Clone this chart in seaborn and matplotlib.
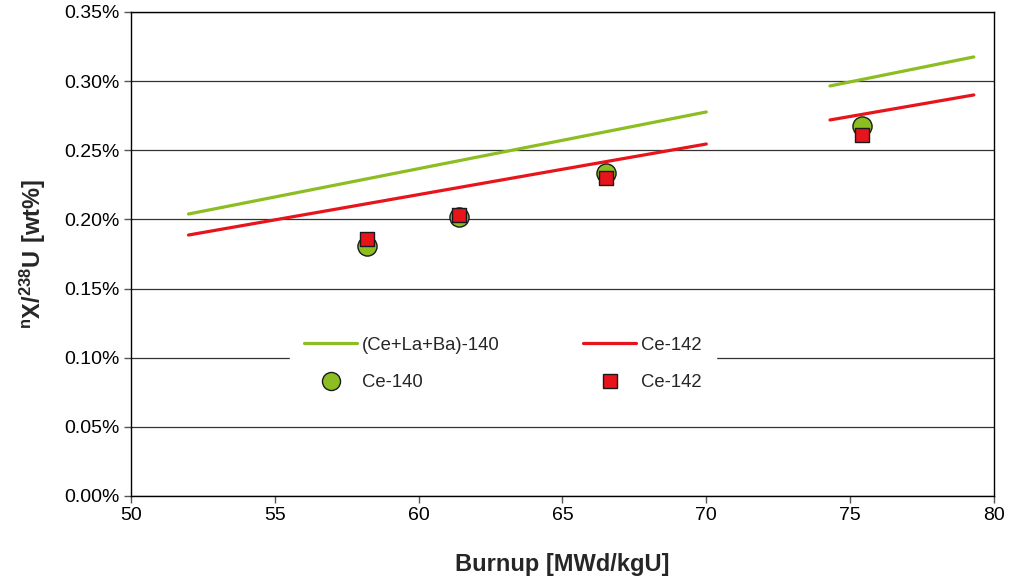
import matplotlib
matplotlib.use("Agg")
import matplotlib.pyplot as plt
import seaborn as sns
import pandas as pd
from matplotlib.ticker import FuncFormatter, MultipleLocator
from matplotlib.lines import Line2D

# Calculated curves (two burnup segments each), values in wt%
calc_burnup = [52.0, 58.0, 64.0, 70.0, 74.3, 79.3]
calc_segment = [1, 1, 1, 1, 2, 2]
calc_celaba140 = [0.2039, 0.2285, 0.2531, 0.2777, 0.2965, 0.3175]
calc_ce142 = [0.1887, 0.2106, 0.2326, 0.2545, 0.2719, 0.2900]

# Measured points
meas_burnup = [58.2, 61.4, 66.5, 75.4]
meas_ce140 = [0.1810, 0.2018, 0.2336, 0.2678]
meas_ce142 = [0.1858, 0.2032, 0.2302, 0.2610]

green = "#8CBE22"
red = "#E8141B"

sns.set_theme(style="white")
plt.rcParams["font.family"] = ["Liberation Sans", "DejaVu Sans"]
plt.rcParams["mathtext.fontset"] = "custom"
plt.rcParams["mathtext.rm"] = "Liberation Sans"
plt.rcParams["mathtext.bf"] = "Liberation Sans:bold"

calc = pd.DataFrame({"burnup": calc_burnup, "segment": calc_segment,
                     "celaba": calc_celaba140, "ce142": calc_ce142})
meas = pd.DataFrame({"burnup": meas_burnup, "ce140": meas_ce140, "ce142": meas_ce142})

fig = plt.figure(figsize=(10.09, 5.78), dpi=100)
ax = fig.add_axes([0.1298, 0.1419, 0.8553, 0.8374])

sns.lineplot(data=calc, x="burnup", y="celaba", units="segment", estimator=None,
             color=green, lw=2.3, ax=ax, zorder=3)
sns.lineplot(data=calc, x="burnup", y="ce142", units="segment", estimator=None,
             color=red, lw=2.3, ax=ax, zorder=3)
sns.scatterplot(data=meas, x="burnup", y="ce140", marker="o", s=190, color=green,
                edgecolor="#1a1a1a", linewidth=1.0, ax=ax, zorder=4)
sns.scatterplot(data=meas, x="burnup", y="ce142", marker="s", s=115, color=red,
                edgecolor="#1a1a1a", linewidth=1.0, ax=ax, zorder=5)

ax.set_xlim(50, 80)
ax.set_ylim(0, 0.35)
ax.xaxis.set_major_locator(MultipleLocator(5))
ax.yaxis.set_major_locator(MultipleLocator(0.05))
ax.yaxis.set_major_formatter(FuncFormatter(lambda v, p: f"{v:.2f}%"))
ax.grid(axis="y", color="#333333", lw=0.9)
ax.set_axisbelow(True)
for s in ax.spines.values():
    s.set_color("black")
    s.set_linewidth(1.0)
ax.tick_params(axis="both", direction="out", length=5, width=1, color="#555555",
               labelsize=14, labelcolor="black", bottom=True, left=True, pad=3)

ax.set_xlabel("Burnup [MWd/kgU]", fontsize=17, fontweight="bold", labelpad=21)
ax.set_ylabel(r"$\mathbf{^{n}X/^{238}U\ [wt\%]}$", fontsize=17, labelpad=12)

handles = [
    Line2D([], [], color=green, lw=2.3),
    Line2D([], [], marker="o", ls="", markersize=13, markerfacecolor=green,
           markeredgecolor="#1a1a1a", markeredgewidth=1.0),
    Line2D([], [], color=red, lw=2.3),
    Line2D([], [], marker="s", ls="", markersize=10, markerfacecolor=red,
           markeredgecolor="#1a1a1a", markeredgewidth=1.0),
]
labels = ["(Ce+La+Ba)-140", "Ce-140", "Ce-142", "Ce-142"]
leg = ax.legend(handles, labels, ncol=2, loc="center", bbox_to_anchor=(0.431, 0.273),
                frameon=True, facecolor="white", edgecolor="white", framealpha=1,
                fancybox=False, fontsize=13.3, handlelength=2.86, handletextpad=0.27,
                columnspacing=4.5, labelspacing=1.1, borderpad=0.8)
leg.set_zorder(6)

fig.savefig("out.png", dpi=100)
